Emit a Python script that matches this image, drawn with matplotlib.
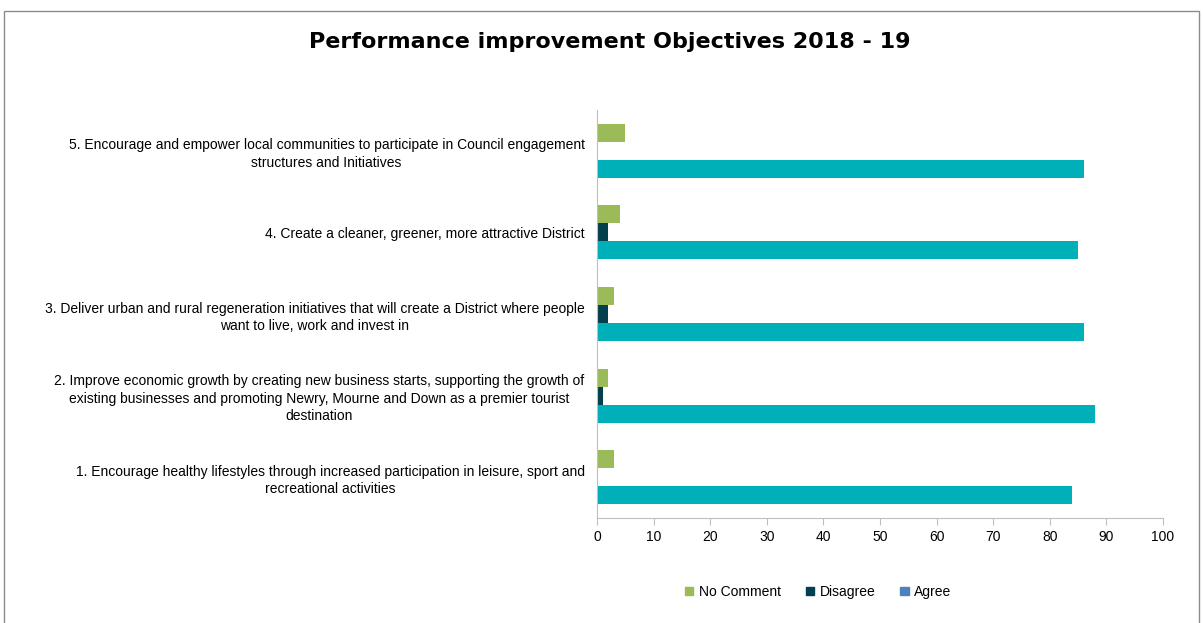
import matplotlib.pyplot as plt
from matplotlib.patches import Patch, Rectangle
import numpy as np

plt.rcParams['font.family'] = ['Liberation Sans', 'DejaVu Sans']

categories = [
    "1. Encourage healthy lifestyles through increased participation in leisure, sport and\nrecreational activities",
    "2. Improve economic growth by creating new business starts, supporting the growth of\nexisting businesses and promoting Newry, Mourne and Down as a premier tourist\ndestination",
    "3. Deliver urban and rural regeneration initiatives that will create a District where people\nwant to live, work and invest in",
    "4. Create a cleaner, greener, more attractive District",
    "5. Encourage and empower local communities to participate in Council engagement\nstructures and Initiatives",
]
agree = [84, 88, 86, 85, 86]
disagree = [0, 1, 2, 2, 0]
no_comment = [3, 2, 3, 4, 5]

c_agree = "#00B0B9"
c_agree_legend = "#4F81BD"
c_disagree = "#033F4C"
c_nocomment = "#9BBB59"

fig = plt.figure(figsize=(12.03, 6.23), dpi=100)
ax = fig.add_axes([0.4963, 0.1685, 0.4705, 0.6549])

y = np.arange(len(categories))
h = 0.22
ax.barh(y - h, agree, height=h, color=c_agree)
ax.barh(y, disagree, height=h, color=c_disagree)
ax.barh(y + h, no_comment, height=h, color=c_nocomment)

ax.set_ylim(-0.5, len(categories) - 0.5)
ax.set_xlim(0, 100)
ax.set_xticks(range(0, 101, 10))
ax.set_yticks(y)
ax.set_yticklabels(categories, fontsize=10, multialignment="center", linespacing=1.3)
ax.tick_params(axis="y", length=0, pad=9)
ax.tick_params(axis="x", length=5, color="#BFBFBF", labelsize=10, direction="out")

for s in ["top", "right"]:
    ax.spines[s].set_visible(False)
ax.spines["left"].set_color("#BFBFBF")
ax.spines["bottom"].set_color("#BFBFBF")

fig.text(0.507, 0.932, "Performance improvement Objectives 2018 - 19",
         ha="center", va="center", fontsize=16, fontweight="bold",
         family="DejaVu Sans")

handles = [Patch(color=c_nocomment, label="No Comment"),
           Patch(color=c_disagree, label="Disagree"),
           Patch(color=c_agree_legend, label="Agree")]
fig.legend(handles=handles, loc="center", bbox_to_anchor=(0.68, 0.05), ncol=3,
           frameon=False, fontsize=10, handlelength=0.6, handleheight=0.6,
           handletextpad=0.4, columnspacing=1.8)

fig.patches.append(Rectangle((0.003, -0.01), 0.994, 0.993, transform=fig.transFigure,
                             fill=False, edgecolor="#8C8C8C", linewidth=1))

fig.savefig("out.png", dpi=100)
